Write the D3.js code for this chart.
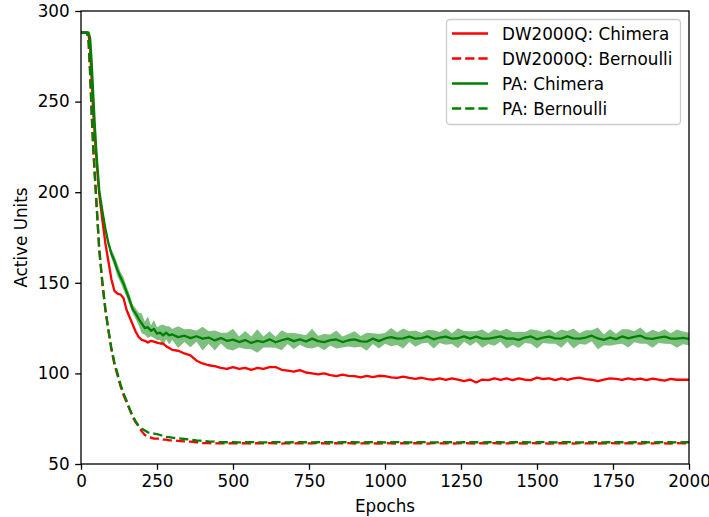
<!DOCTYPE html>
<html>
<head>
<meta charset="utf-8">
<script src="https://cdn.jsdelivr.net/npm/d3@7"></script>
<style>
  body { margin: 0; background: #fff; }
  svg { display: block; font-family: "DejaVu Sans", sans-serif; }
</style>
</head>
<body>
<div id="chart-container"></div>
<script>
// epochs grid: dense at the start, coarser later
const epochs = [0, 10, 20, 25, 30, 35, 40, 45, 50, 55]
    .concat(d3.range(60, 300, 10), d3.range(300, 2001, 20));

const dwChimera = [
    288, 288, 288, 287, 280, 262, 245, 232, 220, 209,
    199, 185, 172, 162, 152, 145.5, 144, 143.5, 141.5, 135, 131, 127, 123, 120,
    118.5, 118, 117, 118, 117.5, 117, 116.5, 116.5, 115, 114,
    113, 112.5, 111, 110, 107, 105.5, 104.5, 104, 103, 102.5,
    103.5, 102.5, 103, 102, 103, 102.5, 103.5, 103.5, 102, 101.5,
    101, 101.8, 100.5, 100, 99.5, 100, 99, 98.5, 99.3, 98.6,
    98.5, 97.8, 98.6, 98, 98.7, 98.5, 97.8, 97.5, 98.2, 97.5,
    97, 97.6, 96.8, 96.5, 97.2, 96.4, 97.2, 96.5, 95.8, 96.6,
    95, 96.6, 96.3, 97.2, 96.4, 97.2, 96.3, 97.3, 96.5, 96.3,
    97.7, 96.9, 97.2, 96.3, 97.2, 96.4, 97.3, 97.7, 96.8, 96.5,
    95.8, 96.6, 97.2, 97, 96.4, 97.2, 96.5, 97.1, 96.3, 97.1,
    96.5, 96, 97, 96.5, 96.6, 96.5
];

const dwBernoulli = [
    288, 288, 288, 283, 265, 243, 225, 210, 196, 182,
    168, 150, 135, 124, 113, 105, 99, 93, 88, 84, 80, 76, 73, 70.5,
    68, 66, 65, 64.5, 64, 64, 64, 63.5, 63.5, 63,
    63, 62.8, 62.5, 62.3, 62, 61.6, 61.5, 61.4, 61.5, 61.4,
    61.5, 61.4, 61.5, 61.3, 61.5, 61.4, 61.5, 61.4, 61.3, 61.5,
    61.4, 61.5, 61.3, 61.4, 61.5, 61.4, 61.3, 61.5, 61.4, 61.5,
    61.3, 61.4, 61.5, 61.4, 61.3, 61.5, 61.4, 61.3, 61.5, 61.4,
    61.5, 61.4, 61.3, 61.5, 61.4, 61.5, 61.3, 61.4, 61.5, 61.4,
    61.3, 61.5, 61.4, 61.5, 61.3, 61.4, 61.5, 61.4, 61.3, 61.5,
    61.4, 61.5, 61.3, 61.4, 61.5, 61.4, 61.3, 61.5, 61.4, 61.5,
    61.3, 61.4, 61.5, 61.4, 61.3, 61.5, 61.4, 61.3, 61.5, 61.4,
    61.5, 61.4, 61.3, 61.5, 61.4, 61.4
];

const paChimera = [
    288, 288, 288, 288, 285, 272, 255, 238, 224, 212,
    201, 190, 180, 172, 166, 162, 157, 153, 149.5, 145, 140.5, 135.5, 133, 130,
    127.5, 125, 125.5, 123.5, 124.5, 122, 122.5, 121, 122.5, 121,
    121.5, 120, 120.8, 119.5, 120.5, 119.2, 119.8, 118.2, 119.5, 118,
    118.6, 117.3, 118.4, 116.8, 117.9, 117.3, 118.8, 117.2, 118.3, 119.2,
    117.8, 118.8, 117.6, 119.2, 117.8, 117.3, 118.4, 118.7, 117.3, 118.3,
    118.8, 117.7, 117.5, 119.2, 117.8, 119.3, 120, 119.2, 119.3, 120.3,
    119.2, 119.5, 120.4, 118.8, 119.8, 120.3, 119.2, 119.4, 120.4, 119.2,
    120.3, 119.2, 119.2, 119.8, 120.4, 119.2, 119.3, 118.5, 119.8, 120.4,
    118.8, 119.8, 120.3, 119.3, 119.2, 120.4, 119.3, 119.2, 119.8, 120.8,
    119.3, 118.5, 119.8, 118.9, 120.4, 119.3, 120.2, 120.8, 119.3, 119.1,
    119.8, 120.3, 119.2, 119.2, 119.6, 119
];

// half width of the shaded band around PA: Chimera
const paChimeraSpread = [
    0.5, 0.5, 0.5, 1, 1.5, 1.5, 1.5, 1.5, 1.5, 1.5,
    1.5, 1.5, 2, 2, 2.5, 3, 3.5, 3, 3.5, 3, 3, 2.5, 3, 3.5,
    5.5, 3.5, 6, 3, 5, 3.5, 4, 6, 3.5, 5,
    3, 6, 3.5, 5, 3, 6.5, 3.5, 5.5, 3, 4.5,
    6, 3, 5, 3.5, 6.5, 3, 4.5, 3, 5.5, 3,
    4.5, 3, 3.5, 5.5, 3, 4.5, 3, 5, 3, 3.5,
    4.5, 3, 5, 3, 4, 3, 5, 3.5, 5.5, 3,
    4.5, 3, 3.5, 5, 3, 4.5, 3, 5.5, 3, 4,
    3, 5, 3, 4.5, 3, 5.5, 3.5, 4.5, 3, 4,
    5, 3, 4, 3, 5, 3, 5.5, 3, 4, 3,
    6, 3, 4.5, 3, 4, 5, 3, 4.5, 3, 5,
    3, 4, 3, 5, 3.5, 3.5
];

const paBernoulli = [
    288, 288, 288, 284, 267, 245, 226, 211, 197, 183,
    169, 151, 136, 124, 114, 106, 100, 94, 89, 85, 80.5, 76.5, 73.5, 71,
    69.5, 68.5, 67.5, 67, 66.8, 66.5, 66, 65.5, 65, 64.8,
    64.5, 64.2, 63.8, 63.4, 63, 62.8, 62.5, 62.3, 62, 62,
    62, 61.9, 62, 62.1, 62, 61.9, 62, 62.1, 62, 61.9,
    62, 62.1, 62, 61.9, 62, 62.1, 62, 61.9, 62, 62.1,
    62, 61.9, 62, 62.1, 62, 61.9, 62, 62.1, 62, 61.9,
    62, 62.1, 62, 61.9, 62, 62.1, 62, 61.9, 62, 62.1,
    62, 61.9, 62, 62.1, 62, 61.9, 62, 62.1, 62, 61.9,
    62, 62.1, 62, 61.9, 62, 62.1, 62, 61.9, 62, 62.1,
    62, 61.9, 62, 62.1, 62, 61.9, 62, 62.1, 62, 61.9,
    62, 62.1, 62, 61.9, 62, 62
];

const xTicks = [0, 250, 500, 750, 1000, 1250, 1500, 1750, 2000];
const yTicks = [50, 100, 150, 200, 250, 300];

const series = [
    { name: "DW2000Q: Chimera", values: dwChimera, color: "red", dashed: false },
    { name: "DW2000Q: Bernoulli", values: dwBernoulli, color: "red", dashed: true },
    { name: "PA: Chimera", values: paChimera, color: "green", dashed: false },
    { name: "PA: Bernoulli", values: paBernoulli, color: "green", dashed: true }
];

const width = 709;
const height = 517;
const margin = { top: 11, right: 20, bottom: 53, left: 81 };
const fontSize = 16.8;
const dash = "9.2,4";

const x = d3.scaleLinear()
    .domain([0, 2000])
    .range([margin.left, width - margin.right]);

const y = d3.scaleLinear()
    .domain([50, 300])
    .range([height - margin.bottom, margin.top]);

const svg = d3.select("#chart-container").append("svg")
    .attr("width", width)
    .attr("height", height);

svg.append("clipPath")
    .attr("id", "plot-clip")
    .append("rect")
    .attr("x", margin.left)
    .attr("y", margin.top)
    .attr("width", width - margin.left - margin.right)
    .attr("height", height - margin.top - margin.bottom);

const plot = svg.append("g").attr("clip-path", "url(#plot-clip)");

const line = vals => d3.line()
    .x((d, i) => x(epochs[i]))
    .y(d => y(d))(vals);

// band behind PA: Chimera
const band = d3.area()
    .x((d, i) => x(epochs[i]))
    .y0((d, i) => y(paChimera[i] - d))
    .y1((d, i) => y(paChimera[i] + d));

plot.append("path")
    .attr("d", band(paChimeraSpread))
    .attr("fill", "green")
    .attr("fill-opacity", 0.5);

series.forEach(s => {
    plot.append("path")
        .attr("d", line(s.values))
        .attr("fill", "none")
        .attr("stroke", s.color)
        .attr("stroke-width", 2.3)
        .attr("stroke-linejoin", "round")
        .attr("stroke-dasharray", s.dashed ? dash : null);
});

// axes
const xAxis = svg.append("g")
    .attr("transform", `translate(0,${height - margin.bottom})`)
    .call(d3.axisBottom(x).tickValues(xTicks).tickFormat(d3.format("d"))
        .tickSizeInner(5.8).tickSizeOuter(0).tickPadding(5));

const yAxis = svg.append("g")
    .attr("transform", `translate(${margin.left},0)`)
    .call(d3.axisLeft(y).tickValues(yTicks).tickFormat(d3.format("d"))
        .tickSizeInner(5.8).tickSizeOuter(0).tickPadding(5.5));

[xAxis, yAxis].forEach(g => {
    g.select(".domain").remove();
    g.selectAll(".tick line").attr("stroke", "#000").attr("stroke-width", 1.3);
    g.selectAll(".tick text")
        .attr("fill", "#000")
        .style("font-size", fontSize + "px")
        .style("font-family", "DejaVu Sans");
});

// frame
svg.append("rect")
    .attr("x", margin.left)
    .attr("y", margin.top)
    .attr("width", width - margin.left - margin.right)
    .attr("height", height - margin.top - margin.bottom)
    .attr("fill", "none")
    .attr("stroke", "#000")
    .attr("stroke-width", 1.3);

svg.append("text")
    .attr("x", (margin.left + width - margin.right) / 2)
    .attr("y", 512)
    .attr("text-anchor", "middle")
    .style("font-size", fontSize + "px")
    .text("Epochs");

svg.append("text")
    .attr("transform", `translate(27,${(margin.top + height - margin.bottom) / 2}) rotate(-90)`)
    .attr("text-anchor", "middle")
    .style("font-size", fontSize + "px")
    .text("Active Units");

// legend
const legend = svg.append("g");
legend.append("rect")
    .attr("x", 446.5)
    .attr("y", 19.5)
    .attr("width", 234)
    .attr("height", 105)
    .attr("rx", 3.5)
    .attr("fill", "#fff")
    .attr("fill-opacity", 0.8)
    .attr("stroke", "#cccccc")
    .attr("stroke-width", 1.3);

series.forEach((s, i) => {
    const cy = 33.5 + i * 25;
    legend.append("line")
        .attr("x1", 452)
        .attr("x2", 488)
        .attr("y1", cy)
        .attr("y2", cy)
        .attr("stroke", s.color)
        .attr("stroke-width", 2.3)
        .attr("stroke-dasharray", s.dashed ? dash : null);
    legend.append("text")
        .attr("x", 502)
        .attr("y", cy)
        .attr("dy", "0.36em")
        .style("font-size", fontSize + "px")
        .text(s.name);
});
</script>
</body>
</html>
